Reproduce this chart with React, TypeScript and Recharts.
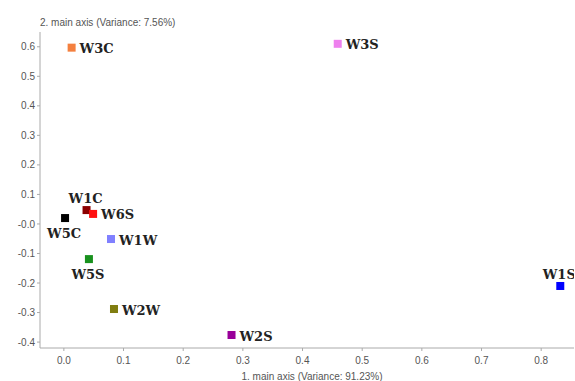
import { ScatterChart, Scatter, XAxis, YAxis, Label } from "recharts";

const samples = ["W3C", "W3S", "W1C", "W6S", "W5C", "W1W", "W5S", "W2W", "W2S", "W1S"];
const axis1 = [0.013, 0.459, 0.038, 0.049, 0.002, 0.079, 0.042, 0.084, 0.281, 0.832];
const axis2 = [0.597, 0.61, 0.047, 0.034, 0.02, -0.051, -0.119, -0.288, -0.376, -0.21];
const colors = ["#f4803f", "#ee80ee", "#8b0000", "#ff1010", "#000000", "#8080ff", "#18911d", "#807d10", "#990099", "#0000ff"];
const labelSide = ["right", "right", "top", "right", "bottom", "right", "bottom", "right", "right", "top"];

const xTicks = [0, 0.1, 0.2, 0.3, 0.4, 0.5, 0.6, 0.7, 0.8];
const xTickLabels = ["0.0", "0.1", "0.2", "0.3", "0.4", "0.5", "0.6", "0.7", "0.8"];
const yTicks = [-0.4, -0.3, -0.2, -0.1, 0, 0.1, 0.2, 0.3, 0.4, 0.5, 0.6];
const yTickLabels = ["-0.4", "-0.3", "-0.2", "-0.1", "-0.0", "0.1", "0.2", "0.3", "0.4", "0.5", "0.6"];

const xTitle = "1. main axis (Variance: 91.23%)";
const yTitle = "2. main axis (Variance: 7.56%)";

const points = samples.map((name, i) => ({
  name,
  x: axis1[i],
  y: axis2[i],
  color: colors[i],
  side: labelSide[i],
}));

const SANS = "Liberation Sans, Arial, sans-serif";
const TICK = { fontSize: 10, fill: "#555", fontFamily: SANS };

function Marker(props: any) {
  const { cx, cy, payload } = props;
  if (cx == null || cy == null) return <g />;
  let tx = cx + 8;
  let ty = cy + 1;
  let anchor: "start" | "middle" = "start";
  if (payload.side === "top") {
    tx = cx - 1;
    ty = cy - 12;
    anchor = "middle";
  } else if (payload.side === "bottom") {
    tx = cx - 1;
    ty = cy + 15;
    anchor = "middle";
  }
  return (
    <g>
      <rect x={cx - 4} y={cy - 4} width={8} height={8} fill={payload.color} />
      <text
        x={tx}
        y={ty}
        dy="0.35em"
        textAnchor={anchor}
        fontFamily="DejaVu Serif, serif"
        fontWeight="bold"
        fontSize={13}
        fill="#222"
      >
        {payload.name}
      </text>
    </g>
  );
}

export default function App() {
  return (
    <div style={{ position: "absolute", left: 0, top: 0, width: 575, height: 381, background: "#fff" }}>
      <ScatterChart width={575} height={381} margin={{ top: 32, right: 1, left: 0, bottom: 0 }}>
        <XAxis
          type="number"
          dataKey="x"
          domain={[-0.04, 0.855]}
          ticks={xTicks}
          tickFormatter={(v: number) => xTickLabels[xTicks.indexOf(v)] ?? String(v)}
          tick={TICK}
          tickSize={3}
          tickMargin={6}
          height={33}
          stroke="#aaa"
          allowDataOverflow
        >
          <Label
            value={xTitle}
            position="insideBottom"
            offset={1}
            dx={5}
            style={{ fontSize: 10, fill: "#555", fontFamily: SANS }}
          />
        </XAxis>
        <YAxis
          type="number"
          dataKey="y"
          domain={[-0.42, 0.65]}
          ticks={yTicks}
          tickFormatter={(v: number) => yTickLabels[yTicks.findIndex((t) => Math.abs(t - v) < 1e-9)] ?? String(v)}
          tick={TICK}
          tickSize={3}
          tickMargin={2}
          width={40}
          stroke="#aaa"
          allowDataOverflow
        >
          <Label
            content={() => (
              <text x={40} y={22} dy="0.35em" fontSize={10} fill="#555" fontFamily={SANS}>
                {yTitle}
              </text>
            )}
          />
        </YAxis>
        <Scatter data={points} shape={Marker} isAnimationActive={false} />
      </ScatterChart>
    </div>
  );
}
